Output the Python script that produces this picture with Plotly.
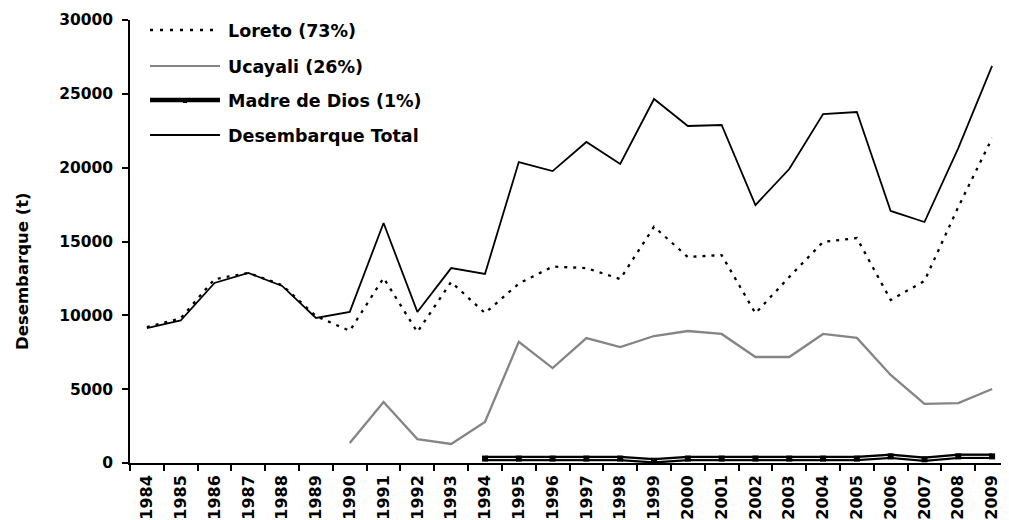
import plotly.graph_objects as go

years = [str(y) for y in range(1984, 2010)]

loreto = [9200, 9800, 12450, 12870, 12050, 9950, 8950, 12530, 8870, 12260, 10150, 12150,
          13300, 13200, 12460, 16000, 13950, 14080, 10140, 12600, 14970, 15230, 11040, 12330,
          17340, 22000]
ucayali = [None]*6 + [1350, 4130, 1620, 1290, 2780, 8200, 6430, 8460, 7850, 8600, 8940, 8740,
                      7180, 7180, 8740, 8470, 5960, 4000, 4060, 5010]
madre = [None]*10 + [300, 300, 300, 300, 300, 150, 300, 300, 300, 300, 300, 300, 450, 250, 450, 450]
total = [9140, 9650, 12190, 12870, 11990, 9820, 10230, 16250, 10230, 13200, 12800, 20380,
         19770, 21740, 20250, 24650, 22820, 22890, 17470, 19910, 23630, 23770, 17070, 16320,
         21330, 26890]

legend_names = ["Loreto (73%)", "Ucayali (26%)", "Madre de Dios (1%)", "Desembarque Total"]
y_title = "Desembarque (t)"
y_ticks = [0, 5000, 10000, 15000, 20000, 25000, 30000]

FONT = "DejaVu Sans"

fig = go.Figure()
fig.add_trace(go.Scatter(x=years, y=ucayali, mode="lines", line=dict(color="#858585", width=2.3),
                         showlegend=False))
fig.add_trace(go.Scatter(x=years, y=loreto, mode="lines", line=dict(color="black", width=2.3, dash="3px,6px"),
                         showlegend=False))
fig.add_trace(go.Scatter(x=years, y=total, mode="lines", line=dict(color="black", width=1.8),
                         showlegend=False))
fig.add_trace(go.Scatter(x=years, y=madre, mode="lines", line=dict(color="black", width=5.5),
                         showlegend=False, cliponaxis=False))
fig.add_trace(go.Scatter(x=years, y=madre, mode="lines+markers", line=dict(color="white", width=1),
                         marker=dict(symbol="square", size=6, color="black"),
                         showlegend=False, cliponaxis=False))

# custom legend (page pixel -> paper fraction helpers)
L, W = 130, 879
B, H = 463, 443
def px(x):
    return (x - L) / W
def py(y):
    return (B - y) / H

leg_y = [30, 66, 100, 135]
styles = [dict(color="black", width=2.3, dash="3px,7px"),
          dict(color="#858585", width=2),
          dict(color="black", width=4.5),
          dict(color="black", width=1.8)]
for name, yy, st in zip(legend_names, leg_y, styles):
    fig.add_shape(type="line", xref="paper", yref="paper", x0=px(150), x1=px(220),
                  y0=py(yy), y1=py(yy), line=st)
    fig.add_annotation(xref="paper", yref="paper", x=px(226), y=py(yy + 1), text=name,
                       showarrow=False, xanchor="left", yanchor="middle",
                       font=dict(family=FONT, size=17.5, color="black", weight="bold"))
fig.add_shape(type="rect", xref="paper", yref="paper", x0=px(183), x1=px(187),
              y0=py(103), y1=py(99), fillcolor="black", line=dict(width=0))

fig.add_annotation(xref="paper", yref="paper", x=px(22), y=py(271), text=y_title,
                   textangle=-90, showarrow=False, xanchor="center", yanchor="middle",
                   font=dict(family=FONT, size=16.5, color="black", weight="bold"))

fig.update_layout(
    width=1001, height=512,
    margin=dict(l=122, r=0, t=12, b=57),
    plot_bgcolor="white", paper_bgcolor="white",
    font=dict(family=FONT, color="black", weight="bold"),
    xaxis=dict(type="category", categoryorder="array", categoryarray=years,
               range=[-0.5, 25.5], showgrid=False, zeroline=False,
               showline=True, linecolor="black", linewidth=1.5,
               ticks="outside", tickson="boundaries", ticklen=6, tickwidth=1.5, tickcolor="black",
               ticklabelstandoff=4,
               tickangle=-90, tickfont=dict(family=FONT, size=16, color="black", weight="bold")),
    yaxis=dict(range=[0, 30000], tickvals=y_ticks, ticktext=[str(v) for v in y_ticks],
               showgrid=False, zeroline=False, showline=True, linecolor="black", linewidth=1.5,
               ticks="outside", ticklen=6, tickwidth=1.5, tickcolor="black",
               ticklabelstandoff=6,
               tickfont=dict(family=FONT, size=15.5, color="black", weight="bold")),
)

fig.write_html("out.html")
